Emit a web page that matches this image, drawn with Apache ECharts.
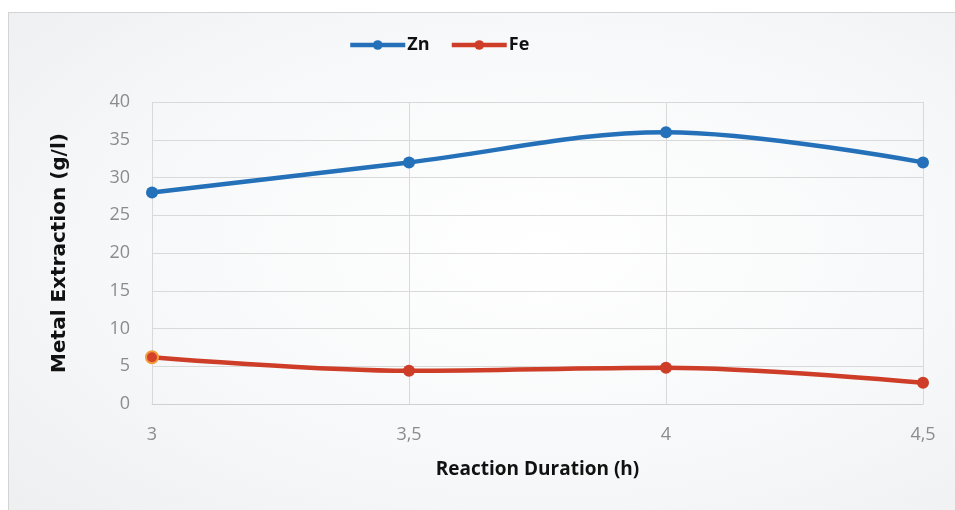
<!DOCTYPE html>
<html><head><meta charset="utf-8">
<script src="https://cdn.jsdelivr.net/npm/echarts@6/dist/echarts.min.js"></script>
<style>
html,body{margin:0;padding:0;background:#fff;overflow:hidden;}
#frame{position:absolute;left:8px;top:12px;width:970px;height:520px;border:1.5px solid #d4d4d4;
background:radial-gradient(ellipse at 55% 45%, #ffffff 0%, #f7f8f9 55%, #eceef0 100%);}
#c{position:absolute;left:0;top:0;width:955px;height:510px;}
</style></head>
<body>
<div id="frame"></div>
<div id="c"></div>
<script>
const categories = ['3', '3,5', '4', '4,5'];
const znValues = [28, 32, 36, 32];
const feValues = [6.2, 4.4, 4.8, 2.8];
const yTicks = {min: 0, max: 40, interval: 5};

const chart = echarts.init(document.getElementById('c'), null, {renderer: 'canvas'});
const narrow = 'Liberation Sans Narrow, Open Sans, sans-serif';
chart.setOption({
  backgroundColor: 'transparent',
  legend: {
    top: 31, left: 343,
    itemWidth: 55, itemHeight: 12, itemGap: 20,
    lineStyle: {width: 4.5},
    textStyle: {fontFamily: narrow, fontWeight: 'bold', fontSize: 18, color: '#111', padding: [0, 0, 0, -3]},
    data: ['Zn', 'Fe']
  },
  grid: {left: 152, right: 32, top: 102, bottom: 106},
  xAxis: {
    type: 'category', data: categories, boundaryGap: false,
    name: 'Reaction Duration (h)', nameLocation: 'middle', nameGap: 56,
    nameTextStyle: {fontFamily: narrow, fontWeight: 'bold', fontSize: 19, color: '#111'},
    axisLine: {lineStyle: {color: '#d0d0d0'}},
    axisTick: {show: false},
    axisLabel: {fontFamily: narrow, fontSize: 18, color: '#8c8c8c', margin: 22},
    splitLine: {show: true, lineStyle: {color: '#d9d9d9'}}
  },
  yAxis: {
    type: 'value', min: yTicks.min, max: yTicks.max, interval: yTicks.interval,
    name: 'Metal Extraction (g/l)', nameLocation: 'middle', nameGap: 82,
    nameTextStyle: {fontFamily: 'DejaVu Sans', fontWeight: 'bold', fontSize: 20, color: '#111', padding: [0, 0, 0, 0]},
    axisLine: {show: false},
    axisTick: {show: false},
    axisLabel: {fontFamily: narrow, fontSize: 18, color: '#8c8c8c', margin: 22},
    splitLine: {lineStyle: {color: '#d9d9d9'}}
  },
  series: [
    {
      name: 'Zn', type: 'line', smooth: 0.35,
      symbol: 'circle', symbolSize: 12,
      lineStyle: {color: '#2470b9', width: 4.5},
      itemStyle: {color: '#2470b9'},
      data: znValues
    },
    {
      name: 'Fe', type: 'line', smooth: 0.35,
      symbol: 'circle', symbolSize: 12,
      lineStyle: {color: '#cd3d27', width: 4.5},
      itemStyle: {color: '#cd3d27'},
      data: feValues.map((v, i) => i === 0 ? {value: v, itemStyle: {color: '#d4402a', borderColor: '#f39c3a', borderWidth: 2}} : v)
    }
  ]
});
</script>
</body></html>
